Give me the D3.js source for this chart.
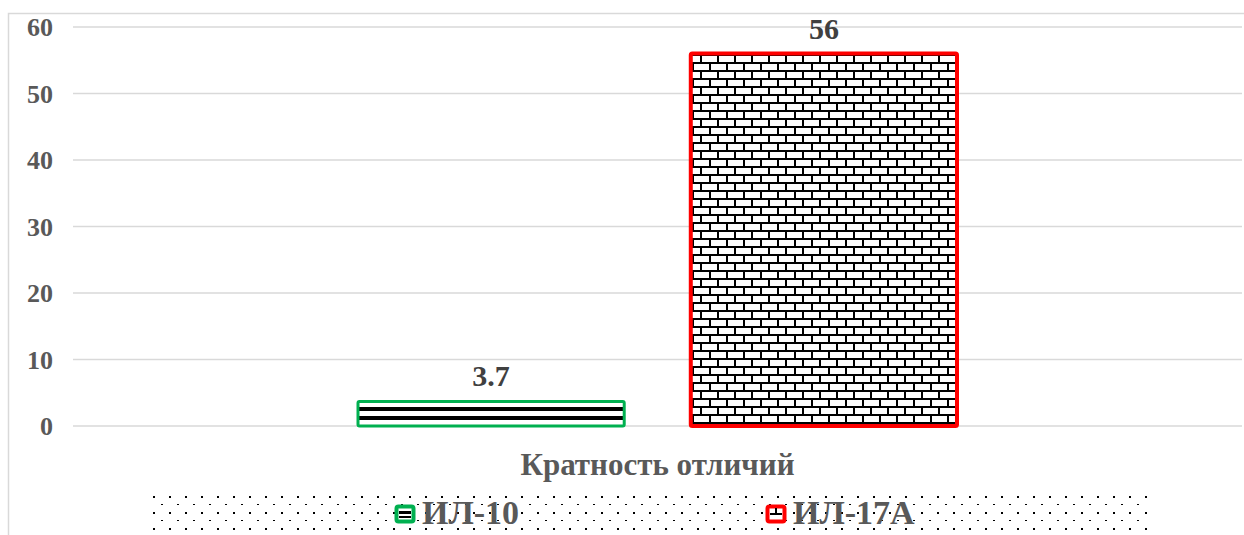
<!DOCTYPE html>
<html>
<head>
<meta charset="utf-8">
<script src="https://cdn.jsdelivr.net/npm/d3@7"></script>
<style>
  html, body { margin: 0; padding: 0; background: #fff; }
  svg { display: block; }
</style>
</head>
<body>
<svg id="chart" width="1244" height="535"></svg>
<script>
// Chart data
const categories = ["Кратность отличий"];
const seriesNames = ["ИЛ-10", "ИЛ-17А"];
const seriesValues = [3.7, 56];
const seriesColors = ["#00b050", "#ff0000"];
const seriesPatterns = ["stripes", "bricks"];
const yTicks = [0, 10, 20, 30, 40, 50, 60];

const W = 1244, H = 535;
const margin = { left: 73, right: 2, top: 27, bottom: 109 };
const FONT = "'Liberation Serif', 'Times New Roman', serif";
const svg = d3.select("#chart");
const defs = svg.append("defs");

// Wide horizontal stripes
const stripes = defs.append("pattern")
  .attr("id", "stripes").attr("patternUnits", "userSpaceOnUse")
  .attr("width", 8).attr("height", 9).attr("y", 402);
stripes.append("rect").attr("width", 8).attr("height", 9).attr("fill", "#fff");
stripes.append("rect").attr("y", 5).attr("width", 8).attr("height", 4).attr("fill", "#000");

// Horizontal brick pattern
const bricks = defs.append("pattern")
  .attr("id", "bricks").attr("patternUnits", "userSpaceOnUse")
  .attr("width", 34).attr("height", 16).attr("x", 692).attr("y", 54);
bricks.append("rect").attr("width", 34).attr("height", 16).attr("fill", "#fff");
bricks.append("rect").attr("x", 0).attr("y", 0).attr("width", 34).attr("height", 2).attr("fill", "#000");
bricks.append("rect").attr("x", 0).attr("y", 8).attr("width", 34).attr("height", 2).attr("fill", "#000");
bricks.append("rect").attr("x", 8).attr("y", 0).attr("width", 2).attr("height", 8).attr("fill", "#000");
bricks.append("rect").attr("x", 25).attr("y", 0).attr("width", 2).attr("height", 8).attr("fill", "#000");
bricks.append("rect").attr("x", 0).attr("y", 8).attr("width", 2).attr("height", 8).attr("fill", "#000");
bricks.append("rect").attr("x", 17).attr("y", 8).attr("width", 2).attr("height", 8).attr("fill", "#000");

// Small dotted pattern for the legend background
const dots = defs.append("pattern")
  .attr("id", "dots").attr("patternUnits", "userSpaceOnUse")
  .attr("width", 16).attr("height", 16).attr("x", 150).attr("y", 489);
dots.append("rect").attr("x", 3).attr("y", 7).attr("width", 2).attr("height", 2).attr("fill", "#000");
dots.append("rect").attr("x", 11).attr("y", 15).attr("width", 2).attr("height", 2).attr("fill", "#000");

// Chart area border (extends beyond the right and bottom edges)
svg.append("path")
  .attr("d", "M8.5,535 L8.5,13.5 L1244,13.5")
  .attr("fill", "none").attr("stroke", "#d9d9d9").attr("stroke-width", 1.5);

const x0 = d3.scaleBand().domain(categories)
  .range([margin.left, W - margin.right])
  .paddingInner(0).paddingOuter(0.4758);
const x1 = d3.scaleBand().domain(seriesNames)
  .range([0, x0.bandwidth()]).paddingInner(0.2).paddingOuter(0);
const y = d3.scaleLinear().domain([0, 60]).range([426, 27]);

// Gridlines
svg.append("g").selectAll("line").data(yTicks).join("line")
  .attr("x1", margin.left).attr("x2", W - margin.right)
  .attr("y1", d => y(d)).attr("y2", d => y(d))
  .attr("stroke", "#d9d9d9").attr("stroke-width", 1.5);

// Y axis labels
const yAxis = d3.axisLeft(y).tickValues(yTicks).tickSize(0).tickPadding(0).tickFormat(d3.format("d"));
const gy = svg.append("g").attr("transform", "translate(53,0)").call(yAxis);
gy.select(".domain").remove();
gy.selectAll("text")
  .attr("font-family", FONT)
  .attr("font-weight", "bold").attr("font-size", 26).attr("fill", "#595959")
  .attr("dy", "0.34em");

// Bars
const data = seriesNames.map((name, i) => ({
  name, value: seriesValues[i], color: seriesColors[i], pattern: seriesPatterns[i], cat: categories[0]
}));
const bars = svg.append("g");
bars.selectAll("rect").data(data).join("rect")
  .attr("x", d => x0(d.cat) + x1(d.name))
  .attr("y", d => y(d.value))
  .attr("width", x1.bandwidth())
  .attr("height", d => y(0) - y(d.value))
  .attr("fill", d => `url(#${d.pattern})`)
  .attr("stroke", d => d.color)
  .attr("stroke-width", (d, i) => i === 0 ? 3 : 4)
  .attr("rx", 1.5);

// Value labels
svg.append("g").selectAll("text").data(data).join("text")
  .attr("x", d => x0(d.cat) + x1(d.name) + x1.bandwidth() / 2)
  .attr("y", d => y(d.value) - 15)
  .attr("text-anchor", "middle")
  .attr("font-family", FONT)
  .attr("font-weight", "bold").attr("font-size", 30).attr("fill", "#404040")
  .text(d => d.value);

// Category axis title
svg.append("text")
  .attr("x", x0(categories[0]) + x0.bandwidth() / 2)
  .attr("y", 475)
  .attr("text-anchor", "middle")
  .attr("font-family", FONT)
  .attr("font-weight", "bold").attr("font-size", 31).attr("fill", "#595959")
  .text(categories[0]);

// Legend
svg.append("rect").attr("x", 150).attr("y", 489).attr("width", 1000).attr("height", 46)
  .attr("fill", "url(#dots)");
const legendX = [395, 766];
const lg = svg.append("g").selectAll("g").data(data).join("g")
  .attr("transform", (d, i) => `translate(${legendX[i]},505)`);
lg.append("rect")
  .attr("x", 1.5).attr("y", 1.5).attr("width", 17).attr("height", 15)
  .attr("rx", 2)
  .attr("fill", "#fff")
  .attr("stroke", d => d.color).attr("stroke-width", 4);
lg.each(function(d, i) {
  const g = d3.select(this);
  if (i === 0) {
    g.append("rect").attr("x", 4).attr("y", 6).attr("width", 12).attr("height", 3).attr("fill", "#000");
    g.append("rect").attr("x", 4).attr("y", 11).attr("width", 12).attr("height", 2).attr("fill", "#000");
  } else {
    g.append("rect").attr("x", 4).attr("y", 8).attr("width", 12).attr("height", 2).attr("fill", "#000");
    g.append("rect").attr("x", 9).attr("y", 3).attr("width", 2).attr("height", 5).attr("fill", "#000");
  }
});
lg.append("text")
  .attr("x", 27).attr("y", 19)
  .attr("font-family", FONT)
  .attr("font-weight", "bold").attr("font-size", 34).attr("fill", "#595959")
  .text(d => d.name);
</script>
</body>
</html>
